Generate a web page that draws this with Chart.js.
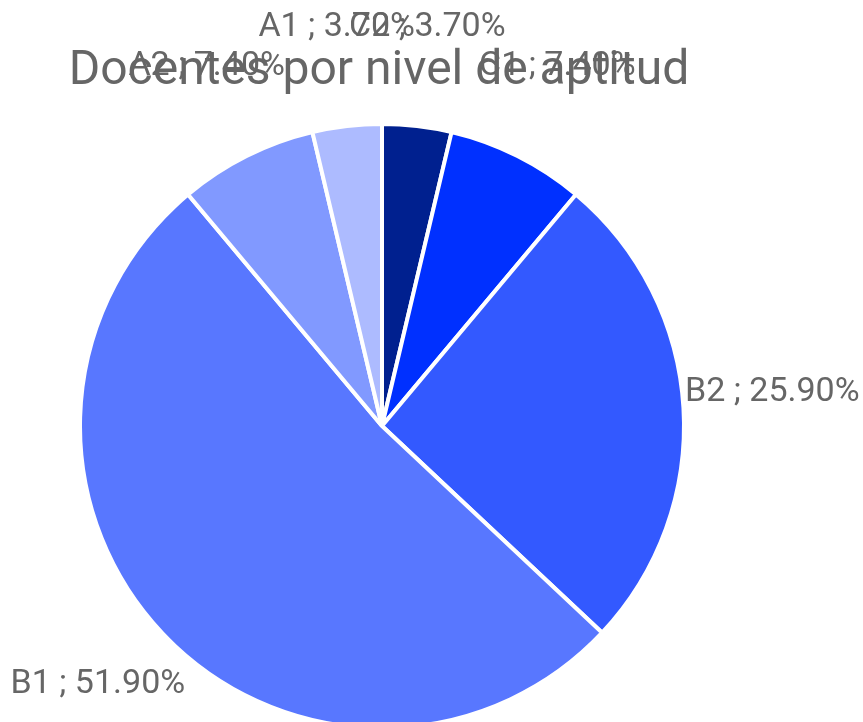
<!DOCTYPE html>
<html>
<head>
<meta charset="utf-8">
<script src="https://cdn.jsdelivr.net/npm/chart.js@4/dist/chart.umd.min.js"></script>
<style>
    html, body { margin: 0; padding: 0; overflow: hidden; background: #fff; }
    .wrap { width: 863px; height: 726px; }
</style>
</head>
<body>
<div class="wrap"><canvas id="pieChart"></canvas></div>
<script>
const chartTitle = 'Docentes por nivel de aptitud';
const levels = ['C2', 'C1', 'B2', 'B1', 'A2', 'A1'];
const percents = [3.70, 7.40, 25.90, 51.90, 7.40, 3.70];
const sliceColors = ['#00208f', '#0030ff', '#3359ff', '#5877ff', '#8199ff', '#adbbff'];

const textColor = '#666666';

// labels sit centred on the mid angle of each slice, a fixed distance out
const outsideLabels = {
    id: 'outsideLabels',
    afterDraw(chart) {
        const ctx = chart.ctx;
        const meta = chart.getDatasetMeta(0);
        ctx.save();
        ctx.fillStyle = textColor;
        ctx.font = '34px Roboto';
        ctx.textAlign = 'center';
        ctx.textBaseline = 'middle';
        meta.data.forEach((arc, i) => {
            const { x, y, startAngle, endAngle, outerRadius } = arc.getProps(['x', 'y', 'startAngle', 'endAngle', 'outerRadius'], true);
            const mid = (startAngle + endAngle) / 2;
            const d = outerRadius + 89;
            const text = levels[i] + ' ; ' + percents[i].toFixed(2) + '%';
            ctx.fillText(text, x + Math.cos(mid) * d, y + Math.sin(mid) * d - 10);
        });
        // title drawn last, over the top labels
        ctx.font = '48px Roboto';
        ctx.fillText(chartTitle, 379, 72);
        ctx.restore();
    }
};

new Chart(document.getElementById('pieChart'), {
    type: 'pie',
    data: {
        labels: levels,
        datasets: [{
            data: percents,
            backgroundColor: sliceColors,
            borderColor: '#ffffff',
            borderWidth: 4,
            hoverOffset: 0
        }]
    },
    options: {
        responsive: true,
        maintainAspectRatio: false,
        animation: false,
        radius: 302,
        layout: { padding: { left: 82, right: 181, top: 126, bottom: 0 } },
        plugins: {
            legend: { display: false },
            title: { display: false },
            tooltip: { enabled: false }
        }
    },
    plugins: [outsideLabels]
});
</script>
</body>
</html>
